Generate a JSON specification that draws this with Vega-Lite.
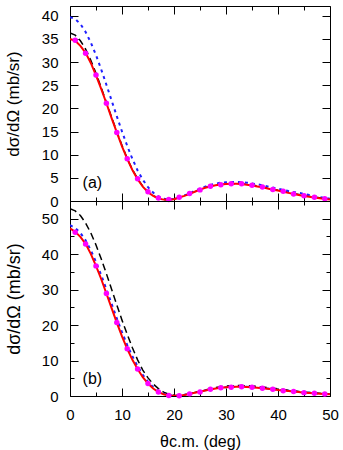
{
  "$schema": "https://vega.github.io/schema/vega-lite/v6.json",
  "padding": {"left": 3, "top": 5, "right": 16, "bottom": 0},
  "spacing": 0,
  "bounds": "flush",
  "config": {
    "font": "Liberation Sans",
    "view": {"stroke": "black", "strokeWidth": 1},
    "axis": {"domain": false, "grid": false, "tickColor": "black", "tickWidth": 1, "labelFlush": false, "labelOverlap": false, "labelFont": "Liberation Sans", "labelFontSize": 15, "labelColor": "black", "titleFont": "Liberation Sans", "titleFontSize": 17, "titleFontWeight": "normal", "titleColor": "black"}
  },
  "datasets": {
    "tl": [
      {"c":"r","x":0,"y":35.0},{"c":"r","x":1,"y":34.6},{"c":"r","x":2,"y":33.5},{"c":"r","x":3,"y":32.0},{"c":"r","x":4,"y":29.8},{"c":"r","x":5,"y":27.1},{"c":"r","x":6,"y":24.2},{"c":"r","x":7,"y":21.1},{"c":"r","x":8,"y":17.9},{"c":"r","x":9,"y":14.8},{"c":"r","x":10,"y":11.8},{"c":"r","x":11,"y":9.1},{"c":"r","x":12,"y":6.7},{"c":"r","x":13,"y":4.7},{"c":"r","x":14,"y":3.1},{"c":"r","x":15,"y":1.9},{"c":"r","x":16,"y":1.1},{"c":"r","x":17,"y":0.55},{"c":"r","x":18,"y":0.3},{"c":"r","x":19,"y":0.25},{"c":"r","x":20,"y":0.4},{"c":"r","x":21,"y":0.75},{"c":"r","x":22,"y":1.1},{"c":"r","x":23,"y":1.55},{"c":"r","x":24,"y":2.0},{"c":"r","x":25,"y":2.45},{"c":"r","x":26,"y":2.85},{"c":"r","x":27,"y":3.15},{"c":"r","x":28,"y":3.4},{"c":"r","x":29,"y":3.55},{"c":"r","x":30,"y":3.65},{"c":"r","x":31,"y":3.7},{"c":"r","x":32,"y":3.7},{"c":"r","x":33,"y":3.65},{"c":"r","x":34,"y":3.5},{"c":"r","x":35,"y":3.35},{"c":"r","x":36,"y":3.15},{"c":"r","x":37,"y":2.95},{"c":"r","x":38,"y":2.7},{"c":"r","x":39,"y":2.45},{"c":"r","x":40,"y":2.25},{"c":"r","x":41,"y":2.0},{"c":"r","x":42,"y":1.75},{"c":"r","x":43,"y":1.5},{"c":"r","x":44,"y":1.3},{"c":"r","x":45,"y":1.1},{"c":"r","x":46,"y":0.9},{"c":"r","x":47,"y":0.75},{"c":"r","x":48,"y":0.6},{"c":"r","x":49,"y":0.45},{"c":"r","x":50,"y":0.35},
      {"c":"k","x":0,"y":36.3},{"c":"k","x":1,"y":35.8},{"c":"k","x":2,"y":34.6},{"c":"k","x":3,"y":32.8},{"c":"k","x":4,"y":30.4},{"c":"k","x":5,"y":27.6},{"c":"k","x":6,"y":24.5},{"c":"k","x":7,"y":21.3},{"c":"k","x":8,"y":18.1},{"c":"k","x":9,"y":15.0},{"c":"k","x":10,"y":12.0},{"c":"k","x":11,"y":9.2},{"c":"k","x":12,"y":6.8},{"c":"k","x":13,"y":4.8},{"c":"k","x":14,"y":3.2},{"c":"k","x":15,"y":2.0},{"c":"k","x":16,"y":1.15},{"c":"k","x":17,"y":0.6},{"c":"k","x":18,"y":0.3},{"c":"k","x":19,"y":0.25},{"c":"k","x":20,"y":0.4},{"c":"k","x":21,"y":0.75},{"c":"k","x":22,"y":1.15},{"c":"k","x":23,"y":1.6},{"c":"k","x":24,"y":2.05},{"c":"k","x":25,"y":2.5},{"c":"k","x":26,"y":2.9},{"c":"k","x":27,"y":3.2},{"c":"k","x":28,"y":3.45},{"c":"k","x":29,"y":3.6},{"c":"k","x":30,"y":3.7},{"c":"k","x":31,"y":3.75},{"c":"k","x":32,"y":3.75},{"c":"k","x":33,"y":3.7},{"c":"k","x":34,"y":3.6},{"c":"k","x":35,"y":3.45},{"c":"k","x":36,"y":3.25},{"c":"k","x":37,"y":3.05},{"c":"k","x":38,"y":2.8},{"c":"k","x":39,"y":2.55},{"c":"k","x":40,"y":2.35},{"c":"k","x":41,"y":2.1},{"c":"k","x":42,"y":1.85},{"c":"k","x":43,"y":1.6},{"c":"k","x":44,"y":1.4},{"c":"k","x":45,"y":1.2},{"c":"k","x":46,"y":1.0},{"c":"k","x":47,"y":0.85},{"c":"k","x":48,"y":0.7},{"c":"k","x":49,"y":0.55},{"c":"k","x":50,"y":0.45},
      {"c":"b","x":0,"y":39.7},{"c":"b","x":1,"y":39.3},{"c":"b","x":2,"y":38.2},{"c":"b","x":3,"y":36.5},{"c":"b","x":4,"y":34.2},{"c":"b","x":5,"y":31.5},{"c":"b","x":6,"y":28.4},{"c":"b","x":7,"y":25.1},{"c":"b","x":8,"y":21.7},{"c":"b","x":9,"y":18.3},{"c":"b","x":10,"y":15.0},{"c":"b","x":11,"y":11.9},{"c":"b","x":12,"y":9.1},{"c":"b","x":13,"y":6.6},{"c":"b","x":14,"y":4.6},{"c":"b","x":15,"y":3.0},{"c":"b","x":16,"y":1.8},{"c":"b","x":17,"y":1.0},{"c":"b","x":18,"y":0.5},{"c":"b","x":19,"y":0.35},{"c":"b","x":20,"y":0.45},{"c":"b","x":21,"y":0.75},{"c":"b","x":22,"y":1.2},{"c":"b","x":23,"y":1.65},{"c":"b","x":24,"y":2.2},{"c":"b","x":25,"y":2.65},{"c":"b","x":26,"y":3.1},{"c":"b","x":27,"y":3.45},{"c":"b","x":28,"y":3.75},{"c":"b","x":29,"y":3.95},{"c":"b","x":30,"y":4.05},{"c":"b","x":31,"y":4.1},{"c":"b","x":32,"y":4.1},{"c":"b","x":33,"y":4.05},{"c":"b","x":34,"y":3.95},{"c":"b","x":35,"y":3.8},{"c":"b","x":36,"y":3.6},{"c":"b","x":37,"y":3.4},{"c":"b","x":38,"y":3.15},{"c":"b","x":39,"y":2.9},{"c":"b","x":40,"y":2.65},{"c":"b","x":41,"y":2.4},{"c":"b","x":42,"y":2.15},{"c":"b","x":43,"y":1.95},{"c":"b","x":44,"y":1.75},{"c":"b","x":45,"y":1.55},{"c":"b","x":46,"y":1.3},{"c":"b","x":47,"y":1.05},{"c":"b","x":48,"y":0.85},{"c":"b","x":49,"y":0.65},{"c":"b","x":50,"y":0.5}
    ],
    "tp": [
      {"x":1,"y":34.7},{"x":3,"y":31.9},{"x":5,"y":27.2},{"x":7,"y":21.1},{"x":9,"y":14.8},{"x":11,"y":9.1},{"x":13,"y":4.8},{"x":15,"y":2.0},{"x":17,"y":0.65},{"x":19,"y":0.3},{"x":21,"y":0.8},{"x":23,"y":1.6},{"x":25,"y":2.4},{"x":27,"y":3.2},{"x":29,"y":3.5},{"x":31,"y":3.7},{"x":33,"y":3.7},{"x":35,"y":3.4},{"x":37,"y":3.0},{"x":39,"y":2.5},{"x":41,"y":2.1},{"x":43,"y":1.5},{"x":45,"y":1.15},{"x":47,"y":0.8},{"x":49,"y":0.5}
    ],
    "bl": [
      {"c":"r","x":0,"y":47.3},{"c":"r","x":1,"y":46.3},{"c":"r","x":2,"y":44.9},{"c":"r","x":3,"y":42.9},{"c":"r","x":4,"y":40.1},{"c":"r","x":5,"y":36.7},{"c":"r","x":6,"y":33.0},{"c":"r","x":7,"y":28.9},{"c":"r","x":8,"y":24.8},{"c":"r","x":9,"y":20.7},{"c":"r","x":10,"y":16.8},{"c":"r","x":11,"y":13.3},{"c":"r","x":12,"y":10.2},{"c":"r","x":13,"y":7.6},{"c":"r","x":14,"y":5.3},{"c":"r","x":15,"y":3.5},{"c":"r","x":16,"y":2.1},{"c":"r","x":17,"y":1.1},{"c":"r","x":18,"y":0.5},{"c":"r","x":19,"y":0.15},{"c":"r","x":20,"y":0.05},{"c":"r","x":21,"y":0.1},{"c":"r","x":22,"y":0.3},{"c":"r","x":23,"y":0.6},{"c":"r","x":24,"y":0.9},{"c":"r","x":25,"y":1.2},{"c":"r","x":26,"y":1.55},{"c":"r","x":27,"y":1.85},{"c":"r","x":28,"y":2.1},{"c":"r","x":29,"y":2.3},{"c":"r","x":30,"y":2.45},{"c":"r","x":31,"y":2.55},{"c":"r","x":32,"y":2.6},{"c":"r","x":33,"y":2.6},{"c":"r","x":34,"y":2.55},{"c":"r","x":35,"y":2.45},{"c":"r","x":36,"y":2.35},{"c":"r","x":37,"y":2.2},{"c":"r","x":38,"y":2.05},{"c":"r","x":39,"y":1.9},{"c":"r","x":40,"y":1.7},{"c":"r","x":41,"y":1.55},{"c":"r","x":42,"y":1.4},{"c":"r","x":43,"y":1.25},{"c":"r","x":44,"y":1.1},{"c":"r","x":45,"y":0.95},{"c":"r","x":46,"y":0.85},{"c":"r","x":47,"y":0.75},{"c":"r","x":48,"y":0.65},{"c":"r","x":49,"y":0.55},{"c":"r","x":50,"y":0.5},
      {"c":"k","x":0,"y":52.8},{"c":"k","x":1,"y":52.2},{"c":"k","x":2,"y":50.9},{"c":"k","x":3,"y":48.8},{"c":"k","x":4,"y":46.0},{"c":"k","x":5,"y":42.6},{"c":"k","x":6,"y":38.7},{"c":"k","x":7,"y":34.5},{"c":"k","x":8,"y":30.1},{"c":"k","x":9,"y":25.7},{"c":"k","x":10,"y":21.4},{"c":"k","x":11,"y":17.4},{"c":"k","x":12,"y":13.6},{"c":"k","x":13,"y":10.2},{"c":"k","x":14,"y":7.3},{"c":"k","x":15,"y":5.1},{"c":"k","x":16,"y":3.4},{"c":"k","x":17,"y":2.1},{"c":"k","x":18,"y":1.1},{"c":"k","x":19,"y":0.5},{"c":"k","x":20,"y":0.2},{"c":"k","x":21,"y":0.15},{"c":"k","x":22,"y":0.35},{"c":"k","x":23,"y":0.65},{"c":"k","x":24,"y":1.0},{"c":"k","x":25,"y":1.35},{"c":"k","x":26,"y":1.7},{"c":"k","x":27,"y":2.05},{"c":"k","x":28,"y":2.35},{"c":"k","x":29,"y":2.6},{"c":"k","x":30,"y":2.8},{"c":"k","x":31,"y":2.9},{"c":"k","x":32,"y":2.95},{"c":"k","x":33,"y":2.95},{"c":"k","x":34,"y":2.9},{"c":"k","x":35,"y":2.8},{"c":"k","x":36,"y":2.7},{"c":"k","x":37,"y":2.55},{"c":"k","x":38,"y":2.4},{"c":"k","x":39,"y":2.2},{"c":"k","x":40,"y":2.0},{"c":"k","x":41,"y":1.85},{"c":"k","x":42,"y":1.65},{"c":"k","x":43,"y":1.5},{"c":"k","x":44,"y":1.3},{"c":"k","x":45,"y":1.15},{"c":"k","x":46,"y":1.0},{"c":"k","x":47,"y":0.85},{"c":"k","x":48,"y":0.75},{"c":"k","x":49,"y":0.6},{"c":"k","x":50,"y":0.55},
      {"c":"b","x":0,"y":48.2},{"c":"b","x":1,"y":47.4},{"c":"b","x":2,"y":46.0},{"c":"b","x":3,"y":43.9},{"c":"b","x":4,"y":41.1},{"c":"b","x":5,"y":37.8},{"c":"b","x":6,"y":34.1},{"c":"b","x":7,"y":30.1},{"c":"b","x":8,"y":26.0},{"c":"b","x":9,"y":21.9},{"c":"b","x":10,"y":18.0},{"c":"b","x":11,"y":14.4},{"c":"b","x":12,"y":11.2},{"c":"b","x":13,"y":8.4},{"c":"b","x":14,"y":6.0},{"c":"b","x":15,"y":4.0},{"c":"b","x":16,"y":2.5},{"c":"b","x":17,"y":1.4},{"c":"b","x":18,"y":0.65},{"c":"b","x":19,"y":0.25},{"c":"b","x":20,"y":0.1},{"c":"b","x":21,"y":0.15},{"c":"b","x":22,"y":0.35},{"c":"b","x":23,"y":0.65},{"c":"b","x":24,"y":0.95},{"c":"b","x":25,"y":1.3},{"c":"b","x":26,"y":1.6},{"c":"b","x":27,"y":1.9},{"c":"b","x":28,"y":2.15},{"c":"b","x":29,"y":2.35},{"c":"b","x":30,"y":2.5},{"c":"b","x":31,"y":2.6},{"c":"b","x":32,"y":2.65},{"c":"b","x":33,"y":2.65},{"c":"b","x":34,"y":2.6},{"c":"b","x":35,"y":2.5},{"c":"b","x":36,"y":2.4},{"c":"b","x":37,"y":2.25},{"c":"b","x":38,"y":2.1},{"c":"b","x":39,"y":1.95},{"c":"b","x":40,"y":1.75},{"c":"b","x":41,"y":1.6},{"c":"b","x":42,"y":1.45},{"c":"b","x":43,"y":1.3},{"c":"b","x":44,"y":1.15},{"c":"b","x":45,"y":1.0},{"c":"b","x":46,"y":0.9},{"c":"b","x":47,"y":0.8},{"c":"b","x":48,"y":0.7},{"c":"b","x":49,"y":0.6},{"c":"b","x":50,"y":0.55}
    ],
    "bp": [
      {"x":1,"y":46.2},{"x":3,"y":42.9},{"x":5,"y":36.7},{"x":7,"y":28.9},{"x":9,"y":20.7},{"x":11,"y":13.3},{"x":13,"y":7.6},{"x":15,"y":3.5},{"x":17,"y":1.1},{"x":19,"y":0.15},{"x":21,"y":0.1},{"x":23,"y":0.6},{"x":25,"y":1.15},{"x":27,"y":1.9},{"x":29,"y":2.35},{"x":31,"y":2.5},{"x":33,"y":2.6},{"x":35,"y":2.45},{"x":37,"y":2.2},{"x":39,"y":1.9},{"x":41,"y":1.5},{"x":43,"y":1.3},{"x":45,"y":0.95},{"x":47,"y":0.75},{"x":49,"y":0.55}
    ]
  },
  "vconcat": [
    {
      "width": 260, "height": 195,
      "resolve": {"axis": {"x": "independent", "y": "independent"}},
      "layer": [
        {
          "data": {"name": "tl"},
          "transform": [{"filter": "datum.c != 'r'"}],
          "mark": {"type": "line", "clip": true},
          "encoding": {
            "x": {"field": "x", "type": "quantitative", "scale": {"domain": [0, 50], "nice": false},
                  "axis": {"orient": "top", "title": null, "labels": false, "values": [0,5,10,15,20,25,30,35,40,45,50],
                           "tickSize": {"condition": {"test": "datum.value % 10 != 0", "value": -4}, "value": -8}}},
            "y": {"field": "y", "type": "quantitative", "scale": {"domain": [0, 42.1], "nice": false, "zero": false},
                  "axis": {"orient": "right", "title": null, "labels": false, "values": [0,5,10,15,20,25,30,35,40], "tickSize": -8}},
            "detail": {"field": "c"},
            "color": {"field": "c", "type": "nominal", "scale": {"domain": ["k", "b"], "range": ["black", "#1f1fff"]}, "legend": null},
            "strokeDash": {"field": "c", "type": "nominal", "scale": {"domain": ["k", "b"], "range": [[7, 4], [3, 4]]}, "legend": null},
            "strokeWidth": {"field": "c", "type": "nominal", "scale": {"domain": ["k", "b"], "range": [1.5, 2]}, "legend": null}
          }
        },
        {
          "data": {"name": "tl"},
          "transform": [{"filter": "datum.c == 'r'"}],
          "mark": {"type": "line", "color": "#ff0000", "strokeWidth": 2, "clip": true},
          "encoding": {
            "x": {"field": "x", "type": "quantitative",
                  "axis": {"orient": "bottom", "title": null, "labels": false, "values": [0,5,10,15,20,25,30,35,40,45,50],
                           "tickSize": {"condition": {"test": "datum.value % 10 != 0", "value": -4}, "value": -8}}},
            "y": {"field": "y", "type": "quantitative",
                  "axis": {"orient": "left", "title": "dσ/dΩ (mb/sr)", "values": [0,5,10,15,20,25,30,35,40], "tickSize": -8, "labelPadding": 20, "titlePadding": 19}}
          }
        },
        {
          "data": {"name": "tp"},
          "mark": {"type": "point", "filled": true, "color": "#ff00ff", "opacity": 1, "size": 30},
          "encoding": {
            "x": {"field": "x", "type": "quantitative", "axis": null},
            "y": {"field": "y", "type": "quantitative", "axis": null}
          }
        },
        {
          "data": {"values": [{"x": 4.3, "y": 3.8, "t": "(a)"}]},
          "mark": {"type": "text", "fontSize": 16, "font": "Liberation Sans", "color": "black"},
          "encoding": {
            "x": {"field": "x", "type": "quantitative", "axis": null},
            "y": {"field": "y", "type": "quantitative", "axis": null},
            "text": {"field": "t"}
          }
        }
      ]
    },
    {
      "width": 260, "height": 195,
      "resolve": {"axis": {"x": "independent", "y": "independent"}},
      "layer": [
        {
          "data": {"name": "bl"},
          "transform": [{"filter": "datum.c != 'r'"}],
          "mark": {"type": "line", "clip": true},
          "encoding": {
            "x": {"field": "x", "type": "quantitative", "scale": {"domain": [0, 50], "nice": false},
                  "axis": {"orient": "top", "title": null, "labels": false, "values": [0,5,10,15,20,25,30,35,40,45,50],
                           "tickSize": {"condition": {"test": "datum.value % 10 != 0", "value": -4}, "value": -8}}},
            "y": {"field": "y", "type": "quantitative", "scale": {"domain": [0, 55], "nice": false, "zero": false},
                  "axis": {"orient": "right", "title": null, "labels": false, "values": [0,5,10,15,20,25,30,35,40,45,50],
                           "tickSize": {"condition": {"test": "datum.value % 10 != 0", "value": -4}, "value": -8}}},
            "detail": {"field": "c"},
            "color": {"field": "c", "type": "nominal", "scale": {"domain": ["k", "b"], "range": ["black", "#1f1fff"]}, "legend": null},
            "strokeDash": {"field": "c", "type": "nominal", "scale": {"domain": ["k", "b"], "range": [[7, 4], [3, 4]]}, "legend": null},
            "strokeWidth": {"field": "c", "type": "nominal", "scale": {"domain": ["k", "b"], "range": [1.5, 2]}, "legend": null}
          }
        },
        {
          "data": {"name": "bl"},
          "transform": [{"filter": "datum.c == 'r'"}],
          "mark": {"type": "line", "color": "#ff0000", "strokeWidth": 2, "clip": true},
          "encoding": {
            "x": {"field": "x", "type": "quantitative",
                  "axis": {"orient": "bottom", "title": "θc.m. (deg)", "titleFontSize": 16, "values": [0,5,10,15,20,25,30,35,40,45,50],
                           "labelExpr": "datum.value % 10 == 0 ? datum.label : ''",
                           "tickSize": {"condition": {"test": "datum.value % 10 != 0", "value": -4}, "value": -8}, "labelPadding": 19, "titlePadding": 7}},
            "y": {"field": "y", "type": "quantitative",
                  "axis": {"orient": "left", "title": "dσ/dΩ (mb/sr)", "titleFontSize": 18, "values": [0,5,10,15,20,25,30,35,40,45,50],
                           "labelExpr": "datum.value % 10 == 0 ? datum.label : ''",
                           "tickSize": {"condition": {"test": "datum.value % 10 != 0", "value": -4}, "value": -8}, "labelPadding": 20, "titlePadding": 18}}
          }
        },
        {
          "data": {"name": "bp"},
          "mark": {"type": "point", "filled": true, "color": "#ff00ff", "opacity": 1, "size": 30},
          "encoding": {
            "x": {"field": "x", "type": "quantitative", "axis": null},
            "y": {"field": "y", "type": "quantitative", "axis": null}
          }
        },
        {
          "data": {"values": [{"x": 4.3, "y": 4.7, "t": "(b)"}]},
          "mark": {"type": "text", "fontSize": 16, "font": "Liberation Sans", "color": "black"},
          "encoding": {
            "x": {"field": "x", "type": "quantitative", "axis": null},
            "y": {"field": "y", "type": "quantitative", "axis": null},
            "text": {"field": "t"}
          }
        }
      ]
    }
  ]
}
